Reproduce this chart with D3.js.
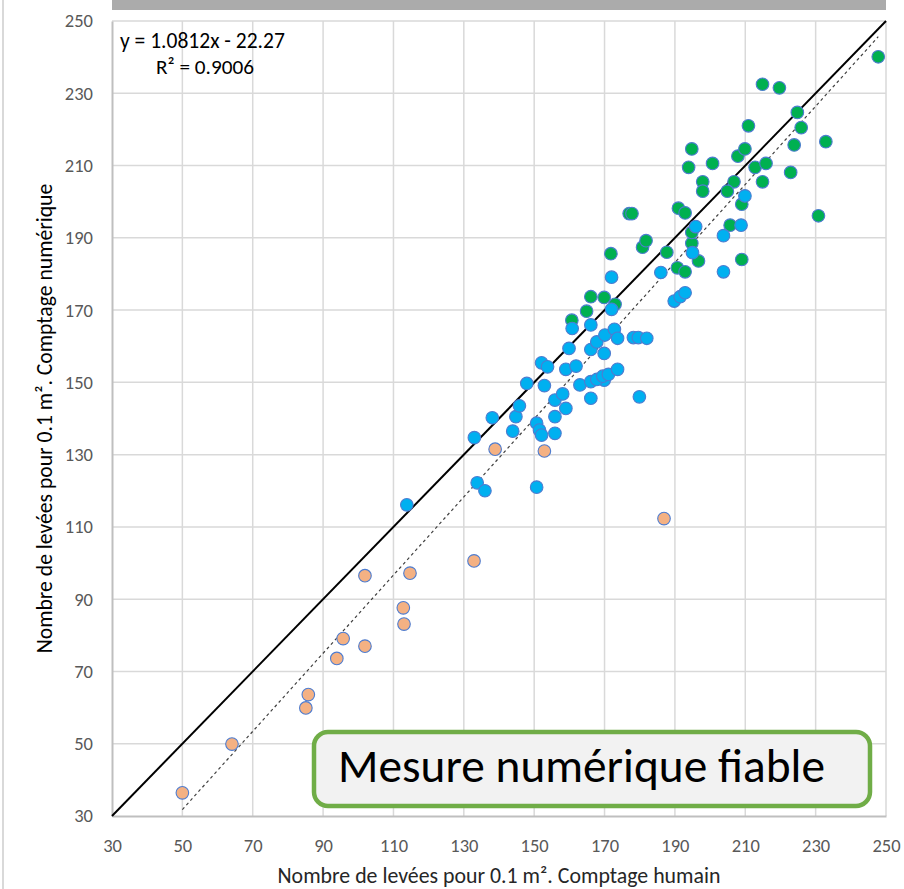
<!DOCTYPE html>
<html>
<head>
<meta charset="utf-8">
<script src="https://cdn.jsdelivr.net/npm/d3@7"></script>
<style>
  body { margin: 0; background: #fff; }
  svg { display: block; font-family: Carlito, Calibri, Lato, sans-serif; }
  .grid line { stroke: #d9d9d9; stroke-width: 1.5; }
</style>
</head>
<body>
<svg class="chart"></svg>
<script>
//DATA
const orangePts = [[50,36.4],[64.1,49.9],[85.1,59.9],[85.8,63.6],[93.9,73.6],[95.7,79.1],[101.9,77.0],
  [101.9,96.5],[112.8,87.6],[113.0,83.1],[114.7,97.2],[132.9,100.6],[138.9,131.5],[152.9,131.0],[186.9,112.3]];

const bluePts = [[113.8,116.1],[133.8,122.2],[136.0,120.0],[150.7,121.0],[133.0,134.7],[138.1,140.2],
  [143.9,136.5],[144.8,140.5],[145.8,143.5],[147.9,149.7],[152.9,149.1],[150.7,138.7],[151.5,136.8],
  [152.1,135.4],[155.9,145.1],[158.1,146.8],[159.0,142.8],[155.9,140.5],[155.9,135.9],[163.0,149.3],
  [166.1,150.2],[166.1,145.6],[169.9,150.6],[167.8,150.8],[169.5,151.7],[171.1,152.2],[173.7,153.6],
  [159.0,153.6],[152.1,155.4],[153.8,154.3],[161.9,154.5],[169.9,158.0],[166.1,159.1],[167.8,161.2],
  [170.1,163.1],[172.8,164.7],[173.7,162.2],[178.2,162.4],[179.6,162.4],[182.0,162.2],[179.9,146.0],
  [159.9,159.4],[160.8,164.9],[166.1,165.9],[172.0,170.2],[172.0,179.1],[186.0,180.4],[189.8,172.5],
  [191.5,173.7],[192.9,174.8],[195.0,185.9],[195.9,193.1],[203.8,190.6],[208.8,193.5],[209.9,201.6],
  [203.8,180.6]];

const greenPts = [[160.7,167.2],[164.9,169.7],[166.1,173.7],[169.9,173.5],[173.0,171.6],[171.8,185.6],
  [180.8,187.4],[181.8,189.2],[187.7,186.0],[190.7,181.7],[192.9,180.6],[194.8,188.5],[196.7,183.6],
  [194.8,191.5],[205.7,193.5],[209.0,184.0],[209.0,199.3],[191.0,198.2],[192.9,196.9],[177.0,196.7],
  [177.8,196.7],[230.8,196.1],[197.9,205.5],[197.9,202.9],[206.8,205.5],[204.9,202.9],[214.9,205.5],
  [193.9,209.5],[200.7,210.6],[194.8,214.6],[207.9,212.6],[209.9,214.6],[212.8,209.5],[215.9,210.6],
  [222.9,208.1],[223.9,215.7],[232.9,216.6],[210.9,221.0],[224.8,224.7],[225.9,220.5],[214.9,232.5],
  [219.7,231.5],[247.8,240.1]];

const ticks = [30, 50, 70, 90, 110, 130, 150, 170, 190, 210, 230, 250];
const trend = [1.0812, -22.27];   // slope, intercept
const eqLabel = 'y = 1.0812x - 22.27';
const r2Label = 'R² = 0.9006';
const xTitle = 'Nombre de levées pour 0.1 m². Comptage humain';
const yTitle = 'Nombre de levées pour 0.1 m². Comptage numérique';
const boxLabel = 'Mesure numérique fiable';

//CANVAS
const size = {w: 904, h: 889};
const margin = {top: 21, left: 112, bottom: 73, right: 18};
const svg = d3.select('svg.chart').attr('width', size.w).attr('height', size.h);

const x = d3.scaleLinear().domain([30, 250]).range([margin.left, size.w - margin.right]);
const y = d3.scaleLinear().domain([30, 250]).range([size.h - margin.bottom, margin.top]);

// frame line at the left edge and grey band on top
svg.append('line').attr('x1', 3).attr('x2', 3).attr('y1', 0).attr('y2', size.h)
  .attr('stroke', '#d9d9d9').attr('stroke-width', 2);
svg.append('rect').attr('x', x(30)).attr('y', 0).attr('width', x(250) - x(30)).attr('height', 10)
  .attr('fill', '#ababab');

//GRID
const grid = svg.append('g').attr('class', 'grid');
grid.selectAll('line.v').data(ticks.slice(1)).join('line').attr('class', 'v')
  .attr('x1', d => x(d)).attr('x2', d => x(d)).attr('y1', y(250)).attr('y2', y(30));
grid.selectAll('line.h').data(ticks.slice(1)).join('line').attr('class', 'h')
  .attr('x1', x(30)).attr('x2', x(250)).attr('y1', d => y(d)).attr('y2', d => y(d));

//AXES
const xAxis = svg.append('g').attr('class', 'axis')
  .attr('transform', `translate(0,${y(30)})`)
  .call(d3.axisBottom(x).tickValues(ticks).tickSize(0).tickPadding(23));
const yAxis = svg.append('g').attr('class', 'axis')
  .attr('transform', `translate(${x(30)},0)`)
  .call(d3.axisLeft(y).tickValues(ticks).tickSize(0).tickPadding(19));
svg.selectAll('.axis').attr('font-size', null).attr('font-family', null);
svg.selectAll('.axis .domain').attr('stroke', '#bfbfbf').attr('stroke-width', 2);
svg.selectAll('.axis text')
  .style('font-family', 'Carlito, Calibri, Lato, sans-serif')
  .style('font-size', '18.5px')
  .style('fill', '#595959');

//REFERENCE LINES
svg.append('line')
  .attr('x1', x(30)).attr('y1', y(30)).attr('x2', x(250)).attr('y2', y(250))
  .attr('stroke', '#000').attr('stroke-width', 2);

const allX = d3.extent([...orangePts, ...bluePts, ...greenPts], d => d[0]);
svg.append('line')
  .attr('x1', x(allX[0])).attr('y1', y(trend[0] * allX[0] + trend[1]))
  .attr('x2', x(allX[1])).attr('y2', y(trend[0] * allX[1] + trend[1]))
  .attr('stroke', '#404040').attr('stroke-width', 1.2).attr('stroke-dasharray', '3,3');

//POINTS
function dots(data, fill){
  svg.append('g').selectAll('circle').data(data).join('circle')
    .attr('cx', d => x(d[0])).attr('cy', d => y(d[1])).attr('r', 6.3)
    .attr('fill', fill).attr('stroke', '#4d7cd0').attr('stroke-width', 1.1);
}
dots(greenPts, '#00b050');
dots(bluePts, '#00b0f0');
dots(orangePts, '#f4b183');

//TEXT HELPER: scale font so the text spans the measured width
function fit(sel, target){
  const w = sel.node().getComputedTextLength();
  const fs = parseFloat(sel.attr('font-size'));
  sel.attr('font-size', fs * target / w);
}

//EQUATION
fit(svg.append('text').attr('x', 120).attr('y', 48).attr('font-size', 18).attr('fill', '#000').text(eqLabel), 165);
fit(svg.append('text').attr('x', 156).attr('y', 74).attr('font-size', 18).attr('fill', '#000').text(r2Label), 98);

//TITLES
const xt = svg.append('text').attr('x', (x(30) + x(250)) / 2).attr('y', 883)
  .attr('text-anchor', 'middle').attr('font-size', 17).attr('fill', '#262626').text(xTitle);
fit(xt, 443);
const yt = svg.append('text')
  .attr('transform', `translate(52,${(y(30) + y(250)) / 2}) rotate(-90)`)
  .attr('text-anchor', 'middle').attr('font-size', 17).attr('fill', '#000').text(yTitle);
fit(yt, 470);

//ANNOTATION BOX
svg.append('rect').attr('x', 314).attr('y', 732).attr('width', 556).attr('height', 74)
  .attr('rx', 14).attr('fill', '#f2f2f2').attr('stroke', '#70ad47').attr('stroke-width', 4.5);
const bt = svg.append('text').attr('x', 338).attr('y', 782).attr('font-size', 44)
  .attr('fill', '#000').text(boxLabel);
fit(bt, 487);
</script>
</body>
</html>
